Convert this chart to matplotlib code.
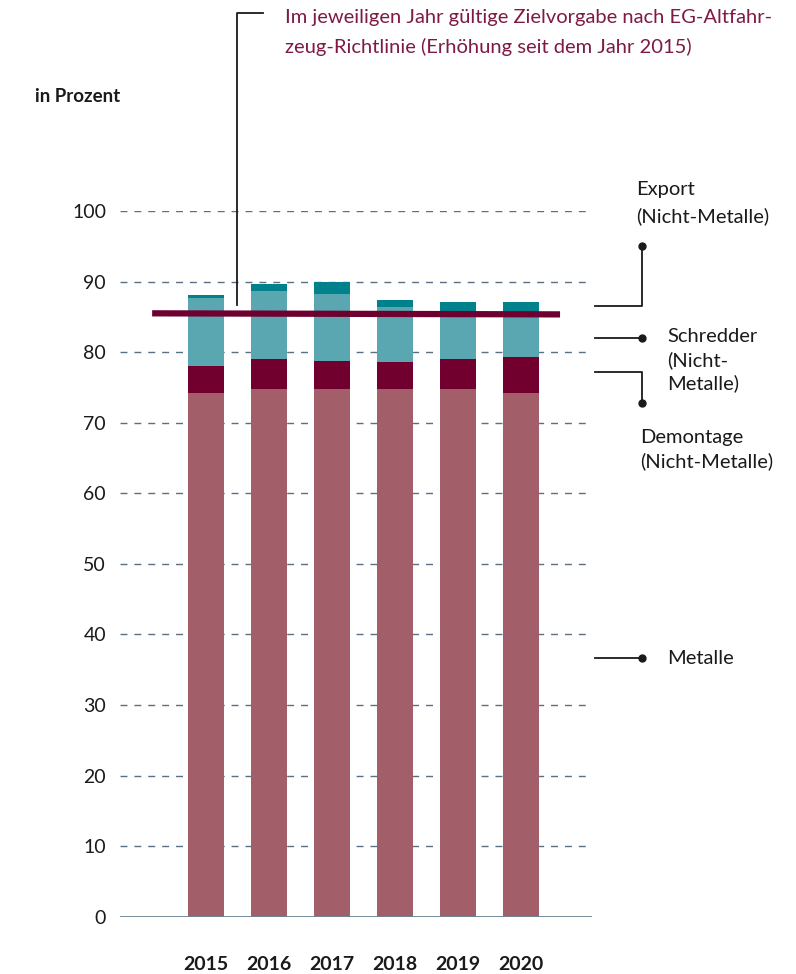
import numpy as np
import matplotlib
matplotlib.use("Agg")
import matplotlib.pyplot as plt
from matplotlib.lines import Line2D

plt.rcParams['font.family'] = ['Lato', 'DejaVu Sans']

# Verwertungsquoten Altfahrzeuge, in Prozent
years = ["2015", "2016", "2017", "2018", "2019", "2020"]
metalle = [74.2, 74.8, 74.8, 74.8, 74.8, 74.2]
demontage = [3.8, 4.2, 4.0, 3.8, 4.2, 5.1]
schredder = [9.7, 9.7, 9.4, 7.8, 6.6, 6.3]
export = [0.4, 1.0, 1.7, 1.0, 1.5, 1.5]
target = 85.5

yticks = [0, 10, 20, 30, 40, 50, 60, 70, 80, 90, 100]

c_met = "#a35f69"
c_dem = "#72002f"
c_sch = "#5aa7b1"
c_exp = "#00818b"
c_target = "#6e0030"
c_title = "#7d1a45"
c_grid = "#5b7083"
c_text = "#1a1a1a"

W, H = 796, 974
fig = plt.figure(figsize=(W / 100, H / 100), dpi=100)

# axes in pixels: x 120..592, y(0)=916.7, y(100)=211
ax = fig.add_axes([120 / W, (H - 916.7) / H, 472 / W, 705.7 / H])

x = np.arange(len(years))
bw = 0.571
bottom = np.zeros(len(years))
for vals, col in [(metalle, c_met), (demontage, c_dem), (schredder, c_sch), (export, c_exp)]:
    ax.bar(x, vals, bw, bottom=bottom, color=col, zorder=3, linewidth=0)
    bottom += np.array(vals)

ax.set_xlim(-1.365, 6.127)
ax.set_ylim(0, 100)

for t in yticks[1:]:
    ax.axhline(t, color=c_grid, lw=1, ls=(0, (5, 5)), zorder=1)
ax.axhline(0, color="#6b8594", lw=1.3, zorder=4)

# target line
ax.plot([-0.855, 5.62], [target, target - 0.15], color=c_target, lw=4.5,
        solid_capstyle="butt", zorder=5, clip_on=False)

ax.set_yticks(yticks)
ax.set_yticklabels([str(t) for t in yticks], fontsize=14, color=c_text)
ax.tick_params(axis="y", length=0, pad=10)
ax.set_xticks(x)
ax.set_xticklabels(years, fontsize=14, fontweight="bold", color=c_text)
ax.tick_params(axis="x", length=0, pad=28)
for s in ax.spines.values():
    s.set_visible(False)


def fx(px):
    return px / W


def fy(py):
    return 1 - py / H


def leader(xs, ys):
    fig.add_artist(Line2D([fx(v) for v in xs], [fy(v) for v in ys],
                          color=c_text, lw=1.3))


def dot(px, py):
    fig.add_artist(Line2D([fx(px)], [fy(py)], marker="o", ms=5,
                          color=c_text, lw=0))


def label(px, py, s, **kw):
    fig.text(fx(px), fy(py), s, fontsize=kw.pop("fontsize", 14.5),
             color=kw.pop("color", c_text), va="center", ha="left", **kw)


# top annotation
leader([263, 237, 237], [13, 13, 305])
label(285, 18, "Im jeweiligen Jahr gültige Zielvorgabe nach EG-Altfahr-", color=c_title)
label(285, 47, "zeug-Richtlinie (Erhöhung seit dem Jahr 2015)", color=c_title)

label(35, 97, "in Prozent", fontsize=13.5, fontweight="bold")

# right annotations
leader([595, 642, 642], [306, 306, 246])
dot(642, 246)
label(636, 189, "Export")
label(636, 216, "(Nicht-Metalle)")

leader([595, 642], [338, 338])
dot(642, 338)
label(667, 337, "Schredder")
label(667, 360, "(Nicht-")
label(667, 383, "Metalle)")

leader([595, 642, 642], [372, 372, 403])
dot(642, 403)
label(640, 437, "Demontage")
label(640, 461, "(Nicht-Metalle)")

leader([595, 642], [658, 658])
dot(642, 658)
label(667, 658, "Metalle")

fig.savefig("out.png", dpi=100, facecolor="white")
